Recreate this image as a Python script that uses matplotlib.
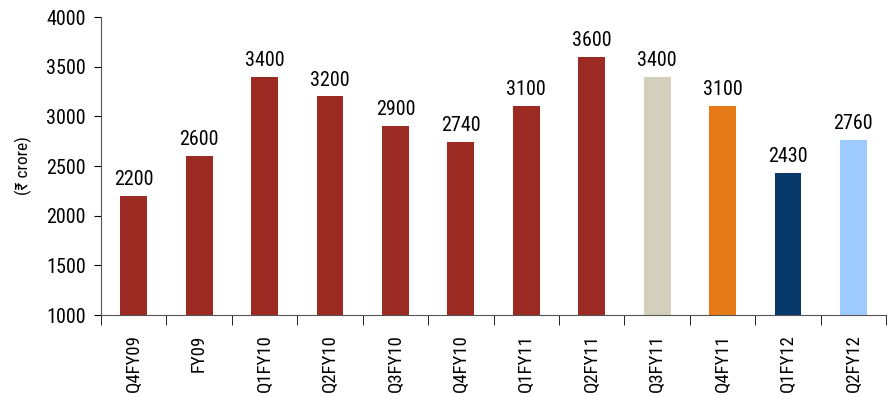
import matplotlib
matplotlib.use("Agg")
import matplotlib.pyplot as plt
from matplotlib import font_manager
from matplotlib.ticker import FixedLocator, NullFormatter

installed = {f.name for f in font_manager.fontManager.ttflist}
narrow = [n for n in ["Liberation Sans Narrow", "DejaVu Sans Condensed", "Roboto Condensed", "Roboto"]
          if n in installed]
plt.rcParams["font.family"] = narrow[:1] + ["DejaVu Sans"]

quarters = ["Q4FY09", "FY09", "Q1FY10", "Q2FY10", "Q3FY10", "Q4FY10",
            "Q1FY11", "Q2FY11", "Q3FY11", "Q4FY11", "Q1FY12", "Q2FY12"]
values = [2200, 2600, 3400, 3200, 2900, 2740, 3100, 3600, 3400, 3100, 2430, 2760]
colors = ["#9a2a22"] * 8 + ["#d3cfbc", "#e67a17", "#073a6b", "#9dcbff"]

fig = plt.figure(figsize=(8.96, 3.96), dpi=100)
ax = fig.add_axes([0.1127, 0.2045, 0.8763, 0.7525])

x = list(range(len(quarters)))
ax.bar(x, values, width=0.41, color=colors, bottom=0, zorder=2)
for xi, v in zip(x, values):
    ax.text(xi, v + 70, str(v), ha="center", va="bottom", fontsize=14.5)

ax.set_xlim(-0.5, len(quarters) - 0.5)
ax.set_ylim(1000, 4000)
ax.set_yticks(range(1000, 4001, 500))
ax.tick_params(axis="y", labelsize=14.5, length=5, direction="out", pad=6)

ax.set_xticks(x)
ax.set_xticklabels(quarters, rotation=90, fontsize=13.5)
ax.tick_params(axis="x", which="major", length=0, pad=14)
ax.xaxis.set_minor_locator(FixedLocator([i - 0.5 for i in range(len(quarters) + 1)]))
ax.xaxis.set_minor_formatter(NullFormatter())
ax.tick_params(axis="x", which="minor", length=7, direction="out")

for s in ["top", "right"]:
    ax.spines[s].set_visible(False)
for s in ["left", "bottom"]:
    ax.spines[s].set_color("#555555")

ax.set_ylabel("(₹ crore)", fontsize=12.5, labelpad=10)

fig.savefig("out.png", dpi=100)
